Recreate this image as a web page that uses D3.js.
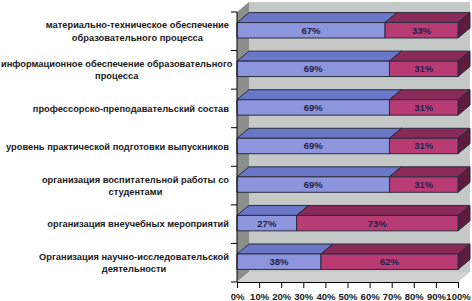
<!DOCTYPE html>
<html>
<head>
    <meta charset="utf-8" />
    <title>3D stacked bar chart</title>
    <style>
        body { margin: 0; background: #fff; }
        text { font-family: "Liberation Sans", Arial, sans-serif; font-weight: bold; }
        .edge { stroke: #2b2b3f; stroke-width: 1; stroke-linejoin: round; }
    </style>
    <script src="https://cdn.jsdelivr.net/npm/d3@7/dist/d3.min.js"></script>
</head>
<body>
<script>
    // categories, top to bottom (\n = line break in the label)
    var categories = [
        'материально-техническое обеспечение\nобразовательного процесса',
        'информационное обеспечение образовательного\nпроцесса',
        'профессорско-преподавательский состав',
        'уровень практической подготовки выпускников',
        'организация воспитательной работы со\nстудентами',
        'организация внеучебных мероприятий',
        'Организация научно-исследовательской\nдеятельности'
    ];
    var valuesA = [67, 69, 69, 69, 69, 27, 38];
    var valuesB = [33, 31, 31, 31, 31, 73, 62];
    var xTicks = [0, 10, 20, 30, 40, 50, 60, 70, 80, 90, 100];

    var width = 472, height = 301;
    // front plane of the plot and the depth offset
    var pLeft = 237, pRight = 458, pTop = 12, pBottom = 282;
    var dx = 12, dy = 10;

    var svg = d3.select('body').append('svg')
        .attr('width', width)
        .attr('height', height);

    var x = d3.scaleLinear().domain([0, 100]).range([pLeft, pRight]);
    var y = d3.scaleBand().domain(d3.range(categories.length))
        .range([pTop, pBottom]).paddingInner(0.6).paddingOuter(0.3);

    function pts(a) { return a.map(function(p) { return p.join(','); }).join(' '); }

    // back wall
    svg.append('polygon')
        .attr('points', pts([[pLeft + dx, pTop - dy], [pRight + dx, pTop - dy], [pRight + dx, pBottom - dy], [pLeft + dx, pBottom - dy]]))
        .attr('fill', '#c4c8c7');
    // left side wall
    svg.append('polygon')
        .attr('points', pts([[pLeft, pTop], [pLeft + dx, pTop - dy], [pLeft + dx, pBottom - dy], [pLeft, pBottom]]))
        .attr('fill', '#8b8f8c');
    // floor
    svg.append('polygon')
        .attr('points', pts([[pLeft, pBottom], [pLeft + dx, pBottom - dy], [pRight + dx, pBottom - dy], [pRight, pBottom]]))
        .attr('fill', '#cfd2d1');

    // bars
    var bars = svg.append('g').attr('transform', 'translate(0,-1)');
    categories.forEach(function(c, i) {
        var y0 = y(i), y1 = y(i) + y.bandwidth();
        var segs = [
            { from: 0, to: valuesA[i], front: '#8d96dc', topc: '#6a77c6', side: '#4a5596', v: valuesA[i] },
            { from: valuesA[i], to: valuesA[i] + valuesB[i], front: '#b83c73', topc: '#8a2b57', side: '#5f1b3b', v: valuesB[i] }
        ];
        segs.forEach(function(s) {
            var xa = x(s.from), xb = x(s.to);
            bars.append('polygon').attr('class', 'edge')
                .attr('points', pts([[xa, y0], [xa + dx, y0 - dy], [xb + dx, y0 - dy], [xb, y0]]))
                .attr('fill', s.topc);
            bars.append('polygon').attr('class', 'edge')
                .attr('points', pts([[xb, y0], [xb + dx, y0 - dy], [xb + dx, y1 - dy], [xb, y1]]))
                .attr('fill', s.side);
            bars.append('rect').attr('class', 'edge')
                .attr('x', xa).attr('y', y0)
                .attr('width', xb - xa).attr('height', y1 - y0)
                .attr('fill', s.front);
            bars.append('text')
                .attr('x', (xa + xb) / 2)
                .attr('y', (y0 + y1) / 2)
                .attr('dy', '0.36em')
                .attr('text-anchor', 'middle')
                .attr('font-size', '9.5px')
                .attr('fill', '#1e1f4e')
                .text(s.v + '%');
        });
    });

    // left axis (category boundaries)
    svg.append('line').attr('x1', pLeft).attr('x2', pLeft).attr('y1', pTop).attr('y2', pBottom)
        .attr('stroke', '#000');
    d3.range(categories.length + 1).forEach(function(k) {
        var yy = pTop + k * y.step();
        svg.append('line').attr('x1', pLeft - 6).attr('x2', pLeft).attr('y1', yy).attr('y2', yy)
            .attr('stroke', '#000');
    });

    // category labels: lines centred inside a block right-aligned to the axis
    categories.forEach(function(c, i) {
        var lines = c.split('\n');
        var cy = pTop + (i + 0.5) * y.step();
        var t = svg.append('text')
            .attr('font-size', '9.3px')
            .attr('fill', '#1a1a1a')
            .attr('text-anchor', 'middle');
        lines.forEach(function(l, j) {
            t.append('tspan')
                .attr('y', cy + (j - (lines.length - 1) / 2) * 12.5)
                .attr('dy', '0.36em')
                .text(l);
        });
        var w = d3.max(t.selectAll('tspan').nodes(), function(n) { return n.getComputedTextLength(); });
        t.selectAll('tspan').attr('x', Math.max(229 - w / 2, w / 2 + 1));
    });

    // bottom axis
    svg.append('g')
        .attr('transform', 'translate(0,' + pBottom + ')')
        .call(d3.axisBottom(x).tickValues(xTicks).tickSize(6).tickFormat(function(d) { return d + '%'; }))
        .call(function(g) {
            g.select('.domain').attr('stroke', '#000');
            g.selectAll('.tick line').attr('stroke', '#000');
            g.selectAll('.tick text')
                .attr('font-family', '"Liberation Sans", Arial, sans-serif')
                .attr('font-weight', 'bold')
                .attr('font-size', '9.5px')
                .attr('fill', '#1a1a1a')
                .attr('dy', '0.9em');
        });
</script>
</body>
</html>
